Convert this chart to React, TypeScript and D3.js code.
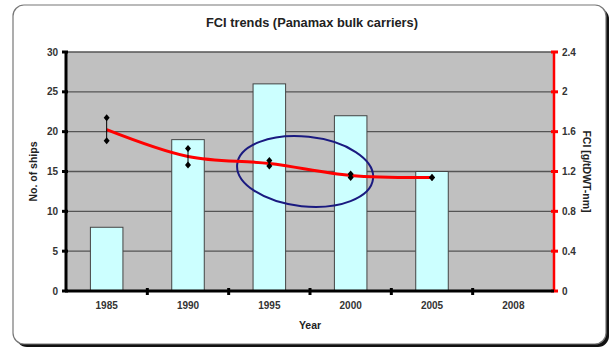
import React from "react";
import * as d3 from "d3";

// Survey years shown on the category axis
const years = ["1985", "1990", "1995", "2000", "2005", "2008"];
// Number of Panamax ships sampled per year (no data for 2008)
const ships: (number | null)[] = [8, 19, 26, 22, 15, null];
// FCI range per year (g/tDWT-nm): high, low and the fitted trend value
const fciHigh = [1.74, 1.43, 1.31, 1.175, 1.14];
const fciLow = [1.51, 1.265, 1.255, 1.14, 1.14];
const fciTrend = [1.62, 1.35, 1.28, 1.16, 1.14];

const shipTicks = [0, 5, 10, 15, 20, 25, 30];
const fciTicks = [0, 0.4, 0.8, 1.2, 1.6, 2, 2.4];

// Highlight ring around the 1995–2000 readings (band units / FCI units)
const ringCenter = { band: 2.94, fci: 1.2 };
const ringRadius = { band: 0.84, fci: 0.35 };
const ringTilt = 6;

const W = 613;
const H = 350;
const plot = { left: 66, right: 554, top: 52, bottom: 291 };
const font = "'Liberation Sans', Arial, sans-serif";

export default function App() {
  const x = d3
    .scaleBand<string>()
    .domain(years)
    .range([plot.left, plot.right])
    .paddingInner(0)
    .paddingOuter(0);
  const yShips = d3.scaleLinear().domain([0, 30]).range([plot.bottom, plot.top]);
  const yFci = d3.scaleLinear().domain([0, 2.4]).range([plot.bottom, plot.top]);

  const bw = x.bandwidth();
  const barW = bw / 2.5;
  const cx = (i: number) => (x(years[i]) as number) + bw / 2;

  const line = d3
    .line<number>()
    .x((_, i) => cx(i))
    .y((d) => yFci(d))
    .curve(d3.curveCardinal.tension(0));

  const bandPos = (b: number) => plot.left + b * bw;
  const ringX = bandPos(ringCenter.band);
  const ringY = yFci(ringCenter.fci);
  const ringRx = ringRadius.band * bw;
  const ringRy = yFci(0) - yFci(ringRadius.fci);

  const diamond = (px: number, py: number) =>
    `M${px},${py - 3.5}L${px + 3},${py}L${px},${py + 3.5}L${px - 3},${py}Z`;

  return (
    <svg
      width={W}
      height={H}
      style={{ position: "absolute", left: 0, top: 0, fontFamily: font }}
    >
      <rect width={W} height={H} fill="#fff" />
      {/* frame with drop shadow */}
      <rect x={16} y={8} width={593} height={339} rx={11} fill="#111" />
      <rect x={13} y={5} width={593} height={339} rx={11} fill="#fff" stroke="#777" strokeWidth={1.2} />

      <text x={312} y={27} textAnchor="middle" fontSize={12.8} fontWeight="bold" fill="#222">
        FCI trends (Panamax bulk carriers)
      </text>

      {/* plot area */}
      <rect
        x={plot.left}
        y={plot.top}
        width={plot.right - plot.left}
        height={plot.bottom - plot.top}
        fill="#c0c0c0"
      />
      {shipTicks.slice(1).map((t) => (
        <line
          key={t}
          x1={plot.left}
          x2={plot.right}
          y1={yShips(t)}
          y2={yShips(t)}
          stroke="#555"
          strokeWidth={1.4}
        />
      ))}

      {/* ship count bars */}
      {ships.map((v, i) =>
        v == null ? null : (
          <rect
            key={years[i]}
            x={cx(i) - barW / 2}
            y={yShips(v)}
            width={barW}
            height={yShips(0) - yShips(v)}
            fill="#ccffff"
            stroke="#444"
            strokeWidth={1}
          />
        )
      )}

      {/* ellipse highlight */}
      <ellipse
        cx={ringX}
        cy={ringY}
        rx={ringRx}
        ry={ringRy}
        fill="none"
        stroke="#1a1a80"
        strokeWidth={2}
        transform={`rotate(${ringTilt},${ringX},${ringY})`}
      />

      {/* FCI trend */}
      <path d={line(fciTrend) || ""} fill="none" stroke="#ff0000" strokeWidth={3} />

      {/* FCI high-low range */}
      {fciHigh.map((h, i) => (
        <g key={years[i]}>
          <line x1={cx(i)} x2={cx(i)} y1={yFci(h)} y2={yFci(fciLow[i])} stroke="#000" strokeWidth={1} />
          <path d={diamond(cx(i), yFci(h))} fill="#000" />
          <path d={diamond(cx(i), yFci(fciLow[i]))} fill="#000" />
        </g>
      ))}

      {/* left axis */}
      <line x1={plot.left} x2={plot.left} y1={plot.top} y2={plot.bottom} stroke="#000" strokeWidth={3} />
      {shipTicks.map((t) => (
        <g key={t}>
          <line x1={plot.left - 4} x2={plot.left + 2} y1={yShips(t)} y2={yShips(t)} stroke="#000" strokeWidth={3} />
          <text
            x={plot.left - 8}
            y={yShips(t)}
            dy="0.35em"
            textAnchor="end"
            fontSize={10}
            fontWeight="bold"
            fill="#333"
          >
            {t}
          </text>
        </g>
      ))}

      {/* right axis */}
      <line x1={plot.right} x2={plot.right} y1={plot.top} y2={plot.bottom} stroke="#ff0000" strokeWidth={2.5} />
      {fciTicks.map((t) => (
        <g key={t}>
          <line x1={plot.right - 3} x2={plot.right + 4} y1={yFci(t)} y2={yFci(t)} stroke="#ff0000" strokeWidth={3} />
          <text x={plot.right + 8} y={yFci(t)} dy="0.35em" fontSize={10} fontWeight="bold" fill="#333">
            {d3.format("~g")(t)}
          </text>
        </g>
      ))}

      {/* bottom axis */}
      <line x1={plot.left - 1} x2={plot.right} y1={plot.bottom} y2={plot.bottom} stroke="#000" strokeWidth={3} />
      {years.map((yr, i) => (
        <g key={yr}>
          {i > 0 && (
            <line
              x1={x(yr) as number}
              x2={x(yr) as number}
              y1={plot.bottom - 3}
              y2={plot.bottom + 4}
              stroke="#000"
              strokeWidth={3}
            />
          )}
          <text x={cx(i)} y={309} textAnchor="middle" fontSize={10} fontWeight="bold" fill="#333">
            {yr}
          </text>
        </g>
      ))}

      <text x={310} y={329} textAnchor="middle" fontSize={10.5} fontWeight="bold" fill="#222">
        Year
      </text>
      <text
        transform={`translate(37,${(plot.top + plot.bottom) / 2}) rotate(-90)`}
        textAnchor="middle"
        fontSize={10.5}
        fontWeight="bold"
        fill="#222"
      >
        No. of ships
      </text>
      <text
        transform={`translate(583,${(plot.top + plot.bottom) / 2}) rotate(90)`}
        textAnchor="middle"
        fontSize={10.5}
        fontWeight="bold"
        fill="#222"
      >
        FCI [g/tDWT-nm]
      </text>
    </svg>
  );
}
